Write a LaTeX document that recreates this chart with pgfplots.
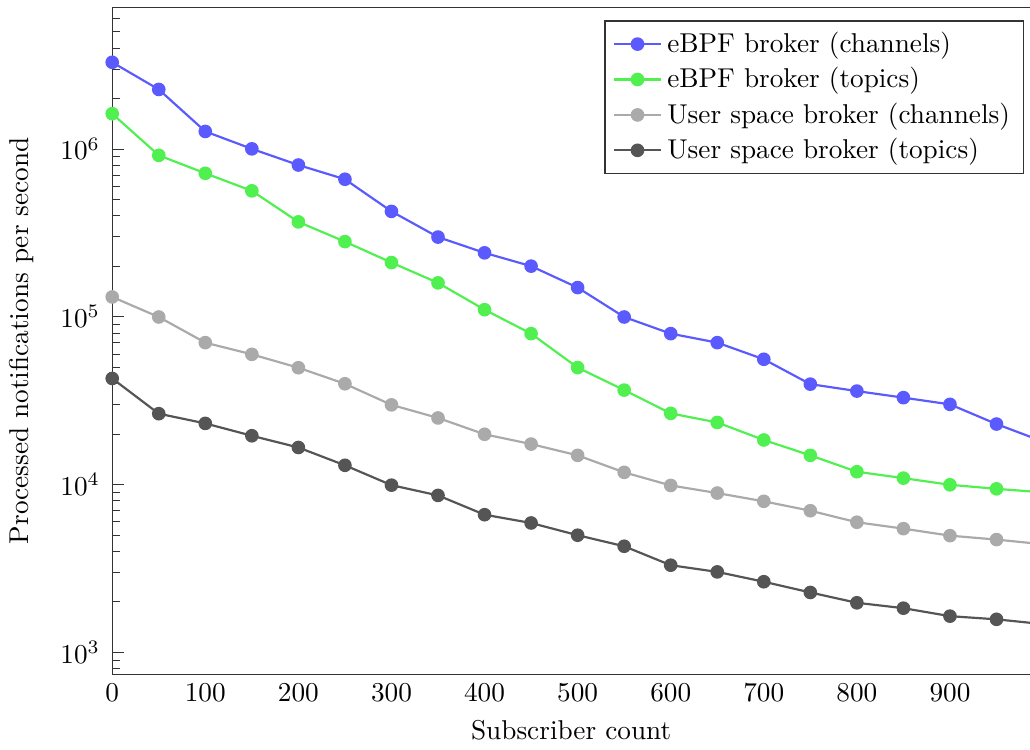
\documentclass[border=0pt]{standalone}
\usepackage{pgfplots}
\pgfplotsset{compat=1.18}
\definecolor{cblue}{RGB}{90,90,255}
\definecolor{cgreen}{RGB}{80,240,80}
\definecolor{clgray}{RGB}{170,170,170}
\definecolor{cdgray}{RGB}{85,85,85}
\begin{document}
\begin{tikzpicture}
\begin{axis}[
  name=ax,
  scale only axis,
  width=337pt, height=245pt,
  ymode=log,
  xmin=0, xmax=986,
  ymin=738, ymax=7.0e6,
  axis line style={draw=none},
  tick align=inside,
  ytick pos=left,
  xtick pos=bottom,
  xtick={0,100,...,900},
  xtick style={draw=none},
  ytick style={black!80},
  yticklabel shift=1pt,
  ylabel shift=3pt,
  xlabel={Subscriber count},
  ylabel={Processed notifications per second},
  legend style={at={(0.9935,0.98)}, anchor=north east, draw=black!80, cells={anchor=west}},
  every axis plot/.append style={line width=0.8pt, mark=*, mark size=2.1pt, mark options={solid}},
  clip=true,
]
\draw[black!80, line width=0.5pt] (rel axis cs:1,1) -- (rel axis cs:0,1) -- (rel axis cs:0,0) -- (rel axis cs:1,0);
\addplot[color=cblue] coordinates {
(0,3.28e6) (50,2.26e6) (100,1.27e6) (150,1.0e6) (200,8.01e5) (250,6.59e5) (300,4.24e5) (350,2.98e5) (400,2.40e5) (450,2.00e5) (500,1.49e5) (550,9.95e4) (600,7.92e4) (650,7.0e4) (700,5.57e4) (750,3.96e4) (800,3.6e4) (850,3.29e4) (900,3.0e4) (950,2.29e4) (1000,1.80e4)
};
\addlegendentry{eBPF broker (channels)}
\addplot[color=cgreen] coordinates {
(0,1.62e6) (50,9.15e5) (100,7.15e5) (150,5.62e5) (200,3.67e5) (250,2.80e5) (300,2.10e5) (350,1.59e5) (400,1.10e5) (450,7.92e4) (500,4.97e4) (550,3.65e4) (600,2.65e4) (650,2.34e4) (700,1.84e4) (750,1.49e4) (800,1.19e4) (850,1.09e4) (900,9.95e3) (950,9.41e3) (1000,8.97e3)
};
\addlegendentry{eBPF broker (topics)}
\addplot[color=clgray] coordinates {
(0,1.31e5) (50,9.95e4) (100,7.0e4) (150,5.96e4) (200,4.96e4) (250,3.98e4) (300,2.98e4) (350,2.49e4) (400,1.99e4) (450,1.74e4) (500,1.49e4) (550,1.18e4) (600,9.86e3) (650,8.88e3) (700,7.93e3) (750,6.97e3) (800,5.95e3) (850,5.45e3) (900,4.95e3) (950,4.69e3) (1000,4.40e3)
};
\addlegendentry{User space broker (channels)}
\addplot[color=cdgray] coordinates {
(0,4.28e4) (50,2.64e4) (100,2.31e4) (150,1.95e4) (200,1.66e4) (250,1.30e4) (300,9.9e3) (350,8.6e3) (400,6.6e3) (450,5.89e3) (500,4.98e3) (550,4.28e3) (600,3.30e3) (650,3.01e3) (700,2.63e3) (750,2.27e3) (800,1.97e3) (850,1.83e3) (900,1.64e3) (950,1.57e3) (1000,1.47e3)
};
\addlegendentry{User space broker (topics)}
\end{axis}
\path (ax.north west) -- ++(0pt,2.6pt);
\end{tikzpicture}
\end{document}
